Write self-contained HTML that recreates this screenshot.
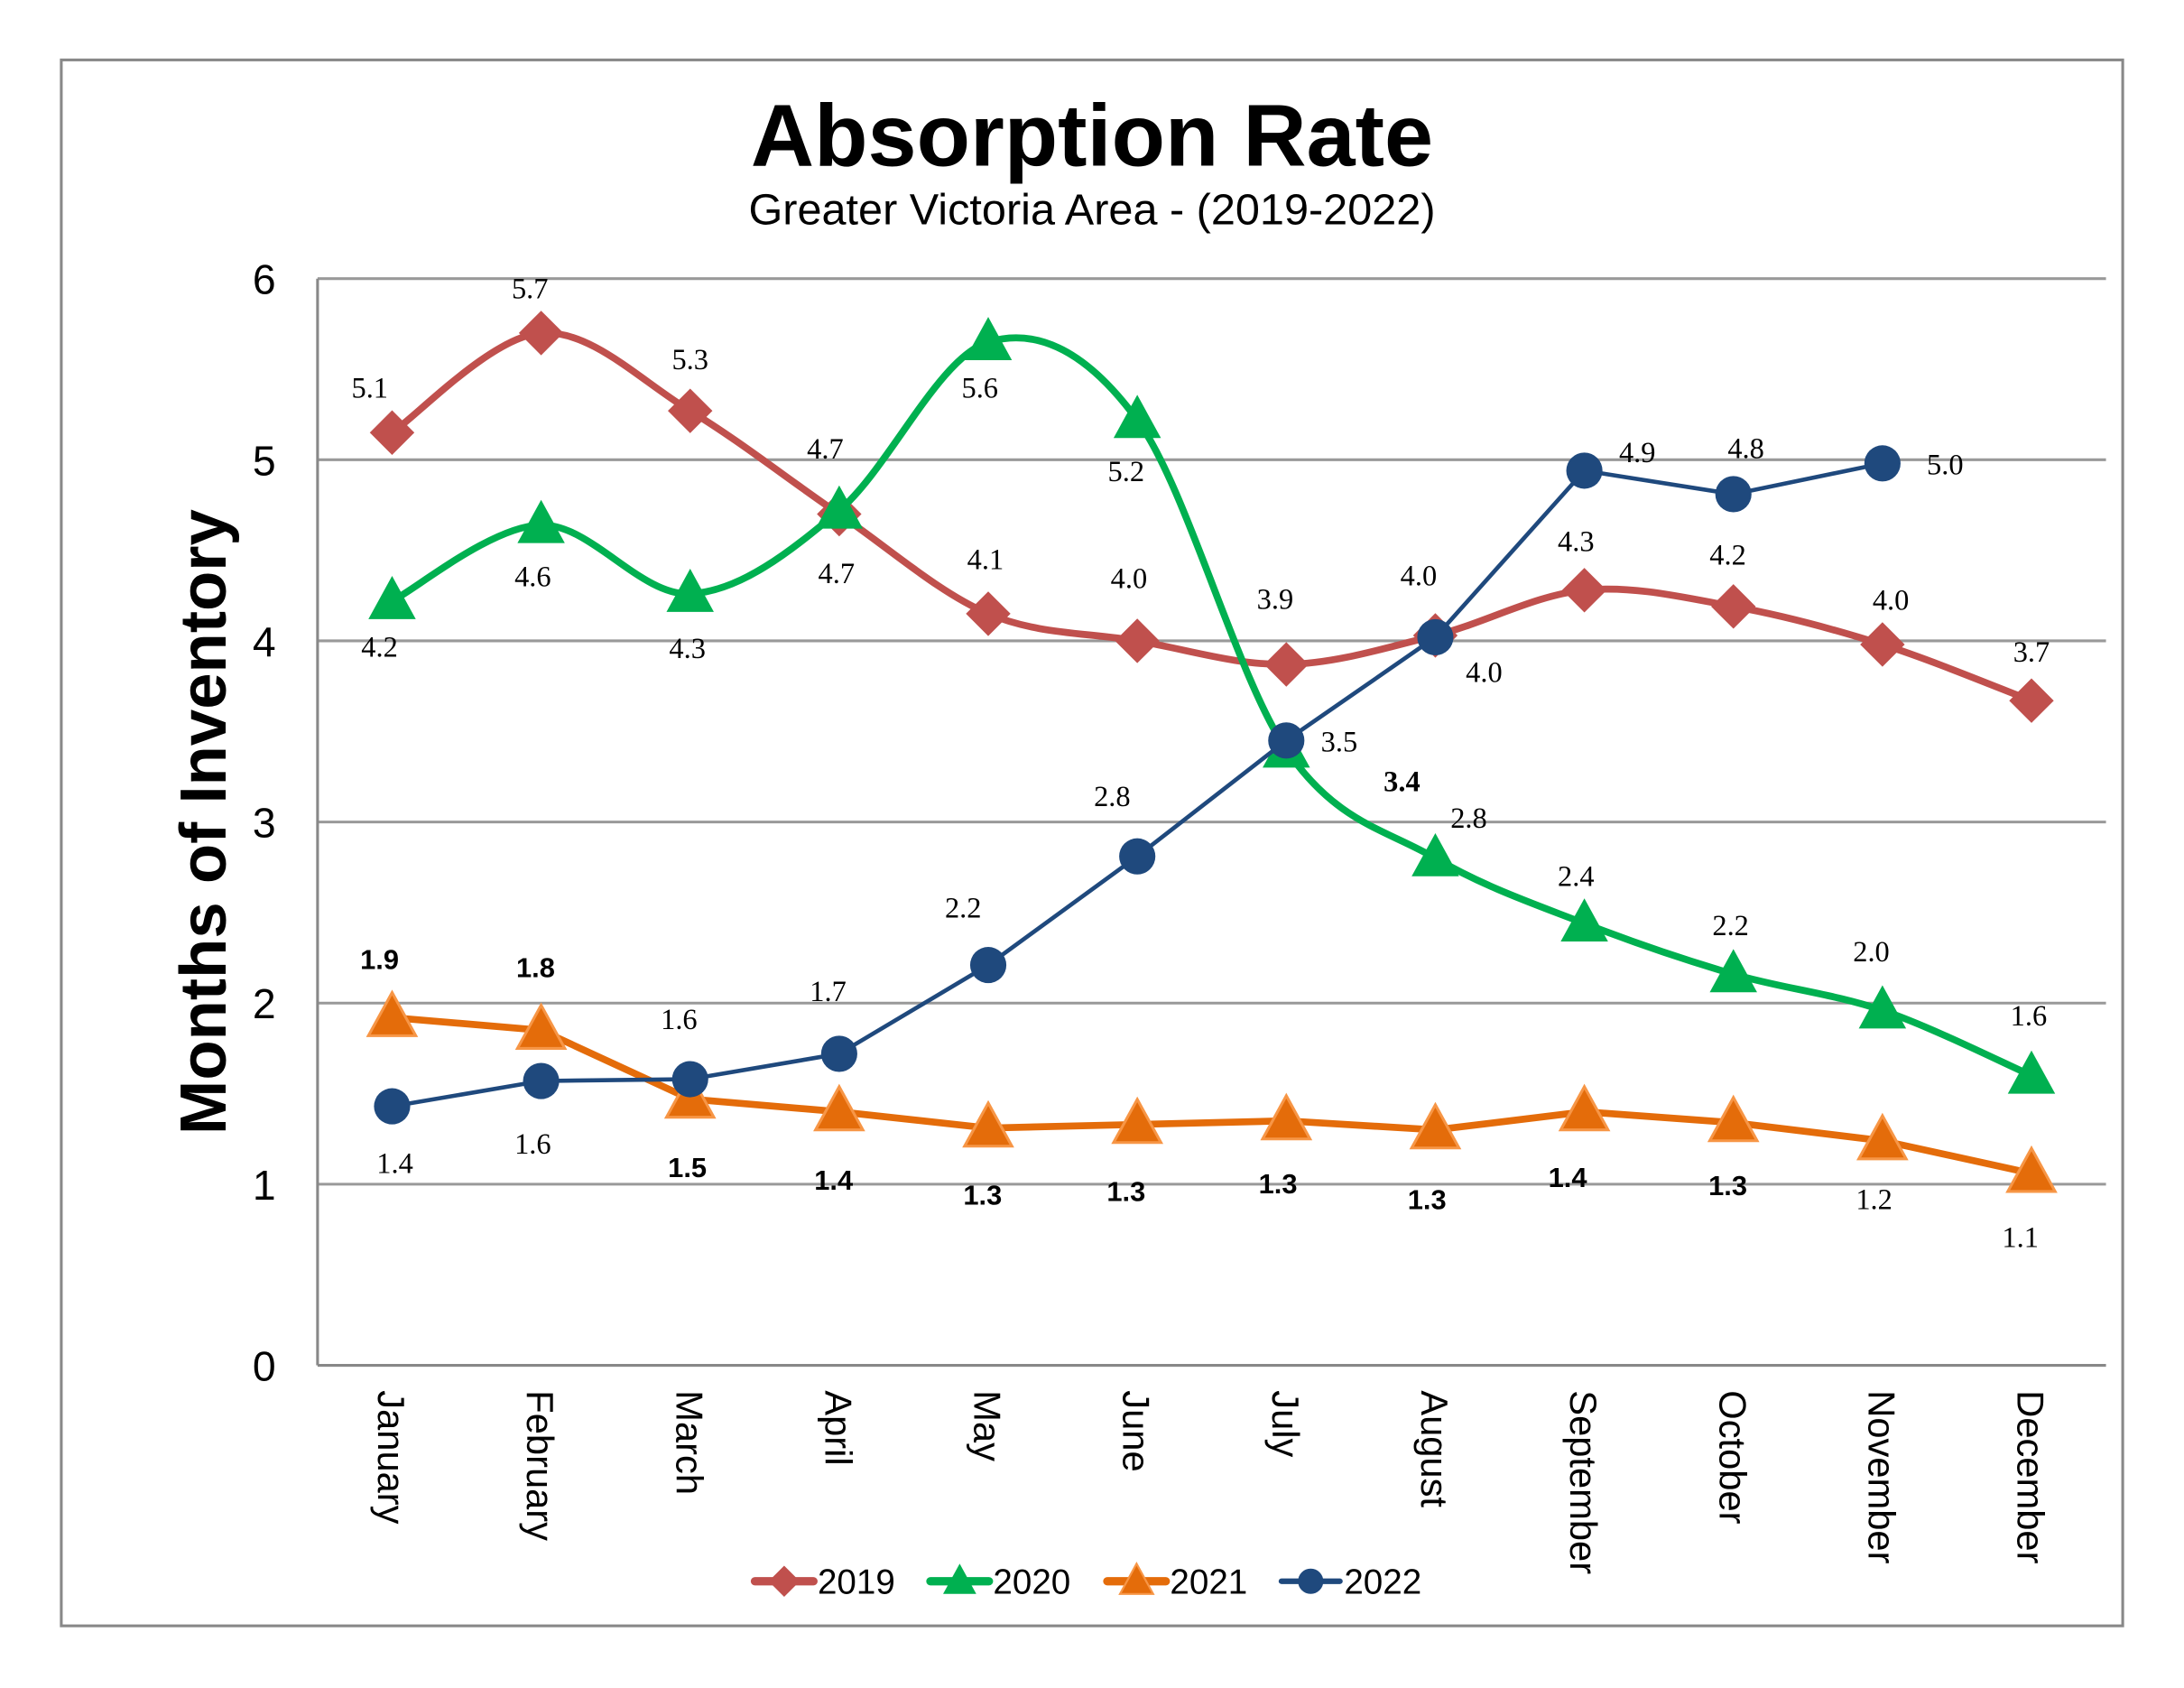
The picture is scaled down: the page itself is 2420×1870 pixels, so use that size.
<!DOCTYPE html>
<html><head><meta charset="utf-8"><title>Absorption Rate</title>
<style>
html,body{margin:0;padding:0;background:#fff;}
svg{display:block;}
</style></head>
<body>
<svg id="chart" width="2420" height="1870" viewBox="0 0 1568 1211.6" xmlns="http://www.w3.org/2000/svg">
  <rect x="44" y="43" width="1480" height="1124" fill="#fff" stroke="#888" stroke-width="2"/>
  <text x="784" y="119" text-anchor="middle" font-family="Liberation Sans, sans-serif" font-weight="bold" font-size="63">Absorption Rate</text>
  <text x="784" y="161" text-anchor="middle" font-family="Liberation Sans, sans-serif" font-size="31.5">Greater Victoria Area - (2019-2022)</text>
  <text transform="translate(162,590) rotate(-90)" text-anchor="middle" font-family="Liberation Sans, sans-serif" font-weight="bold" font-size="47">Months of Inventory</text>
  <g id="grid"></g>
  <g id="series"></g>
  <g id="labels"></g>
  <g id="xlabels"></g>
  <g id="legend"></g>
</svg>
<script>
const months = ["January","February","March","April","May","June","July","August","September","October","November","December"];
const yTicks = [0,1,2,3,4,5,6];
const y2019 = [5.15,5.7,5.27,4.7,4.15,4.0,3.87,4.03,4.28,4.19,3.98,3.67];
const y2020 = [4.22,4.64,4.26,4.72,5.65,5.22,3.4,2.8,2.44,2.16,1.96,1.6];
const y2021 = [1.92,1.85,1.47,1.4,1.31,1.33,1.35,1.3,1.4,1.34,1.24,1.06];
const y2022 = [1.43,1.57,1.58,1.72,2.21,2.81,3.45,4.02,4.94,4.81,4.98];
const lbl2019 = ["5.1","5.7","5.3","4.7","4.1","4.0","3.9","4.0","4.3","4.2","4.0","3.7"];
const lbl2020 = ["4.2","4.6","4.3","4.7","5.6","5.2","3.4","2.8","2.4","2.2","2.0","1.6"];
const lbl2021 = ["1.9","1.8","1.5","1.4","1.3","1.3","1.3","1.3","1.4","1.3","1.2","1.1"];
const lbl2022 = ["1.4","1.6","1.6","1.7","2.2","2.8","3.5","4.0","4.9","4.8","5.0"];
const seriesNames = ["2019","2020","2021","2022"];

// label offsets (style, not data)
const off2019 = [[-16,-25],[-8,-25],[0,-30],[-10,-40],[-2,-32],[-6,-38],[-8,-40],[-12,-36],[-6,-28],[-4,-30],[6,-25],[0,-28]];
const off2020 = [[-9,40],[-6,44],[-2,46],[-2,52],[-6,40],[-8,44],[83,30],[24,-22],[-6,-27],[-2,-28],[-8,-35],[-2,-36]];
const off2021 = [[-9,-35],[-4,-38],[-2,56],[-4,56],[-4,55],[-8,55],[-6,52],[-6,57],[-12,54],[-4,52],[-6,49],[-8,53]];
const off2022 = [[2,48],[-6,52],[-8,-36],[-8,-38],[-18,-34],[-18,-36],[38,8],[35,32],[38,-6],[9,-26],[45,8]];

const L=228,R=1512,T=200,B=980;
const X = i => L + (R-L)/months.length*(i+0.5);
const Y = v => B - (B-T)*v/6;
const NS="http://www.w3.org/2000/svg";
function mk(tag, parent){const e=document.createElementNS(NS,tag);parent.appendChild(e);return e;}

const grid=document.getElementById('grid');
yTicks.forEach(t=>{
  const ln=mk('line',grid);
  
  
  ln.setAttribute('x1',L);ln.setAttribute('x2',R);ln.setAttribute('y1',Y(t));ln.setAttribute('y2',Y(t));
  ln.setAttribute('stroke',t===0?'#888':'#999');ln.setAttribute('stroke-width','2');
  const tx=mk('text',grid);
  
  
  tx.setAttribute('x',198);tx.setAttribute('y',Y(t)+11);tx.setAttribute('text-anchor','end');
  tx.setAttribute('font-family','Liberation Sans, sans-serif');tx.setAttribute('font-size','30');
  tx.textContent=t;
});
const ax=mk('line',grid);


ax.setAttribute('x1',L);ax.setAttribute('x2',L);ax.setAttribute('y1',T);ax.setAttribute('y2',B);ax.setAttribute('stroke','#888');ax.setAttribute('stroke-width','2');

const xl=document.getElementById('xlabels');
months.forEach((m,i)=>{
  const tx=mk('text',xl);
  
  
  tx.setAttribute('transform','translate('+(X(i)-10)+',998) rotate(90)');
  tx.setAttribute('font-family','Liberation Sans, sans-serif');tx.setAttribute('font-size','27');
  tx.textContent=m;
});

function smoothPath(pts){
  let d='M'+pts[0][0]+','+pts[0][1];
  for(let i=0;i<pts.length-1;i++){
    const p0=pts[i-1]||pts[i],p1=pts[i],p2=pts[i+1],p3=pts[i+2]||pts[i+1];
    const t=1/6;
    d+=' C'+(p1[0]+(p2[0]-p0[0])*t)+','+(p1[1]+(p2[1]-p0[1])*t)+' '+(p2[0]-(p3[0]-p1[0])*t)+','+(p2[1]-(p3[1]-p1[1])*t)+' '+p2[0]+','+p2[1];
  }
  return d;
}
function straightPath(pts){return 'M'+pts.map(p=>p[0]+','+p[1]).join(' L');}

const sg=document.getElementById('series');
function marker(g,type,x,y,fill,stroke){
  let e;
  if(type==='diamond'){e=mk('polygon',g);e.setAttribute('points',[x+','+(y-16),(x+16)+','+y,x+','+(y+16),(x-16)+','+y].join(' '));}
  else if(type==='tri'){e=mk('polygon',g);e.setAttribute('points',[x+','+(y-18),(x+17)+','+(y+13),(x-17)+','+(y+13)].join(' '));}
  else {e=mk('circle',g);e.setAttribute('cx',x);e.setAttribute('cy',y);e.setAttribute('r',13);}
  e.setAttribute('fill',fill);
  if(stroke){e.setAttribute('stroke',stroke);e.setAttribute('stroke-width','2');}
  return e;
}
const cfg=[
  {vals:y2019,name:'2019',color:'#C0504D',fill:'#C0504D',w:5,smooth:true,m:'diamond'},
  {vals:y2020,name:'2020',color:'#00B050',fill:'#00B050',w:5,smooth:true,m:'tri'},
  {vals:y2021,name:'2021',color:'#E46C0A',fill:'#E46C0A',stroke:'#F79646',w:5,smooth:false,m:'tri'},
  {vals:y2022,name:'2022',color:'#1F497D',fill:'#1F497D',w:3,smooth:false,m:'circle'}
];
cfg.forEach(c=>{
  const g=mk('g',sg);
  
  
  const pts=c.vals.map((v,i)=>[X(i),Y(v)]);
  const p=mk('path',g);
  
  
  p.setAttribute('d',c.smooth?smoothPath(pts):straightPath(pts));
  p.setAttribute('fill','none');p.setAttribute('stroke',c.color);p.setAttribute('stroke-width',c.w);p.setAttribute('stroke-linejoin','round');
  pts.forEach((pt,i)=>{
    const e=marker(g,c.m,pt[0],pt[1],c.fill,c.stroke);
    
    
  });
});

const lg=document.getElementById('labels');
function addLabels(vals,lbls,offs,name,bold,sans){
  vals.forEach((v,i)=>{
    const t=mk('text',lg);
    
    
    t.setAttribute('x',X(i)+offs[i][0]);t.setAttribute('y',Y(v)+offs[i][1]);
    t.setAttribute('text-anchor','middle');
    const isSans=sans&&!(name==='2021'&&i>=10);
    t.setAttribute('font-family',isSans?'Liberation Sans, sans-serif':'Liberation Serif, serif');
    t.setAttribute('font-size',isSans?'20':'21');
    if(bold&&!(name==='2021'&&i>=10))t.setAttribute('font-weight','bold');
    if(name==='2020'&&i===6)t.setAttribute('font-weight','bold');
    t.textContent=lbls[i];
  });
}
addLabels(y2019,lbl2019,off2019,'2019',false,false);
addLabels(y2020,lbl2020,off2020,'2020',false,false);
addLabels(y2021,lbl2021,off2021,'2021',true,true);
addLabels(y2022,lbl2022,off2022,'2022',false,false);

const leg=document.getElementById('legend');
const legX=[542,668,795,920];
cfg.forEach((c,k)=>{
  const g=mk('g',leg);
  
  
  const ln=mk('line',g);
  ln.setAttribute('x1',legX[k]);ln.setAttribute('x2',legX[k]+42);ln.setAttribute('y1',1135);ln.setAttribute('y2',1135);
  ln.setAttribute('stroke',c.color);ln.setAttribute('stroke-width',c.w+1);ln.setAttribute('stroke-linecap','round');
  const mm=marker(g,c.m,legX[k]+21,1135,c.fill,c.stroke);
  mm.setAttribute('transform','translate('+(legX[k]+21)+',1135) scale(0.7) translate('+(-(legX[k]+21))+',-1135)');
  const t=mk('text',g);
  t.setAttribute('x',legX[k]+45);t.setAttribute('y',1144);
  t.setAttribute('font-family','Liberation Sans, sans-serif');t.setAttribute('font-size','25');
  t.textContent=c.name;
});
</script>
</body></html>
